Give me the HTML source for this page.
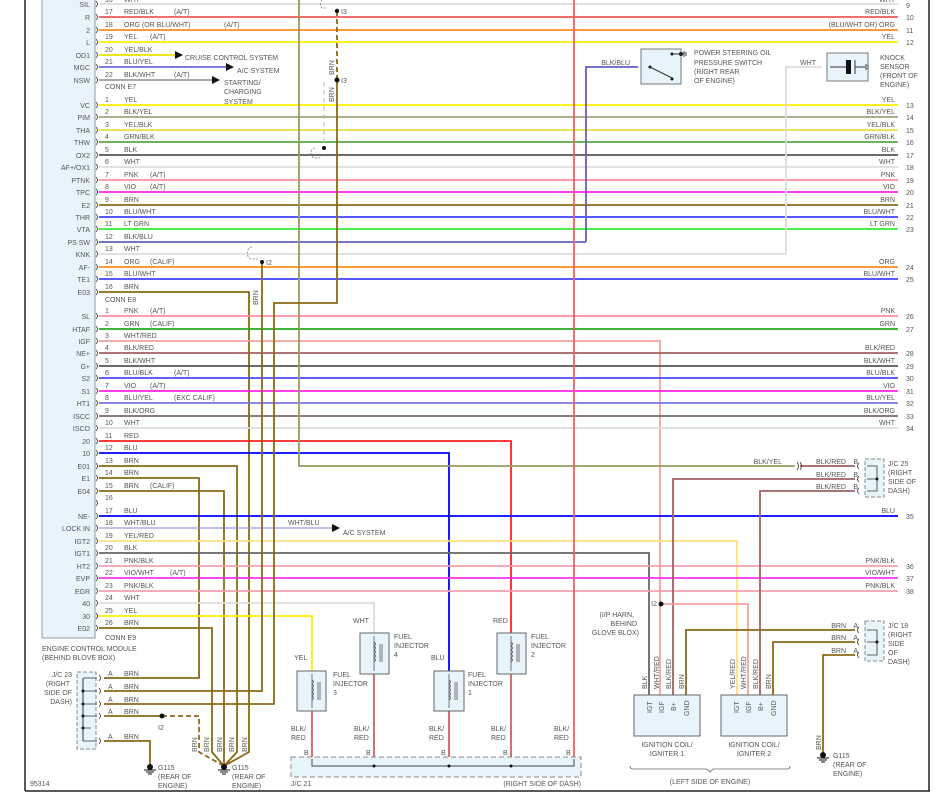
<!DOCTYPE html>
<html><head><meta charset="utf-8"><style>
html,body{margin:0;padding:0;background:#fff}
svg{display:block}
text{font-family:"Liberation Sans",sans-serif;font-size:7px;fill:#555}
</style></head><body>
<svg width="942" height="800" viewBox="0 0 942 800" xmlns="http://www.w3.org/2000/svg">
<!-- frame -->
<line x1="25" y1="0" x2="25" y2="791" stroke="#222" stroke-width="1.5"/>
<line x1="25" y1="791" x2="930" y2="791" stroke="#222" stroke-width="1.5"/>
<line x1="929" y1="0" x2="929" y2="791" stroke="#222" stroke-width="1.5"/>
<!-- ECM -->
<rect x="42" y="-2" width="53" height="640" fill="#e8f4fc" stroke="#999"/>
<g fill="none" stroke-width="1.8">
<!-- top rows -->
<line x1="99" y1="4" x2="898" y2="4" stroke="#ddd"/>
<line x1="99" y1="17" x2="898" y2="17" stroke="#f05858"/>
<line x1="99" y1="30" x2="898" y2="30" stroke="#ff8c1a"/>
<line x1="99" y1="42" x2="898" y2="42" stroke="#ffee00"/>
<line x1="99" y1="55" x2="175" y2="55" stroke="#e8e000"/>
<line x1="99" y1="67" x2="226" y2="67" stroke="#6a6ae0"/>
<line x1="99" y1="80" x2="212" y2="80" stroke="#555" stroke-width="1"/>
<!-- E7 -->
<line x1="99" y1="105" x2="898" y2="105" stroke="#ffee00"/>
<line x1="99" y1="117" x2="898" y2="117" stroke="#a0a080"/>
<line x1="99" y1="130" x2="898" y2="130" stroke="#e8e040"/>
<line x1="99" y1="142" x2="898" y2="142" stroke="#5aa845"/>
<line x1="99" y1="155" x2="898" y2="155" stroke="#555"/>
<line x1="99" y1="167" x2="898" y2="167" stroke="#ddd"/>
<line x1="99" y1="180" x2="898" y2="180" stroke="#ff8fa0"/>
<line x1="99" y1="192" x2="898" y2="192" stroke="#ff22ee"/>
<line x1="99" y1="205" x2="898" y2="205" stroke="#8b6914"/>
<line x1="99" y1="217" x2="898" y2="217" stroke="#4040ff"/>
<line x1="99" y1="229" x2="898" y2="229" stroke="#33ee33"/>
<line x1="99" y1="242" x2="586" y2="242" stroke="#6060c0"/>
<line x1="99" y1="254" x2="786" y2="254" stroke="#ddd"/>
<line x1="99" y1="267" x2="898" y2="267" stroke="#ff8c1a"/>
<line x1="99" y1="279" x2="898" y2="279" stroke="#4040ff"/>
<polyline points="99,292 249,292 249,752 224,766" stroke="#8b6914"/>
<!-- E8 -->
<line x1="99" y1="316" x2="898" y2="316" stroke="#ff8fa0"/>
<line x1="99" y1="329" x2="898" y2="329" stroke="#22aa22"/>
<polyline points="99,341 660,341 660,700" stroke="#f4a0a0"/>
<line x1="99" y1="353" x2="898" y2="353" stroke="#a06060"/>
<line x1="99" y1="366" x2="898" y2="366" stroke="#555"/>
<line x1="99" y1="378" x2="898" y2="378" stroke="#4a4aff"/>
<line x1="99" y1="391" x2="898" y2="391" stroke="#ff22ee"/>
<line x1="99" y1="403" x2="898" y2="403" stroke="#7777dd"/>
<line x1="99" y1="416" x2="898" y2="416" stroke="#7a6a60"/>
<line x1="99" y1="428" x2="898" y2="428" stroke="#ddd"/>
<polyline points="99,441 511,441 511,633" stroke="#ff2020"/>
<polyline points="99,453 449,453 449,671" stroke="#0000ff"/>
<polyline points="99,466 237,466 237,752 224,766" stroke="#8b6914"/>
<polyline points="99,478 199,478 199,678 104,678" stroke="#8b6914"/>
<polyline points="99,491 224,491 224,766" stroke="#8b6914"/>
<line x1="99" y1="516" x2="898" y2="516" stroke="#0000ff"/>
<line x1="99" y1="528" x2="332" y2="528" stroke="#8080e0" stroke-width="1"/>
<polyline points="99,541 737,541 737,700" stroke="#ffe080"/>
<polyline points="99,553 649,553 649,700" stroke="#666"/>
<line x1="99" y1="566" x2="898" y2="566" stroke="#f0a0b0"/>
<line x1="99" y1="578" x2="898" y2="578" stroke="#ff30f0"/>
<line x1="99" y1="591" x2="898" y2="591" stroke="#f0a0b0"/>
<polyline points="99,603 374,603 374,633" stroke="#ddd"/>
<polyline points="99,616 312,616 312,671" stroke="#ffee00"/>
<polyline points="99,628 212,628 212,752 224,766" stroke="#8b6914"/>
<!-- verticals -->
<polyline points="299,0 299,466 795,466" stroke="#9a9a60"/>
<polyline points="337,80 337,303 274,303 274,704 104,704" stroke="#8b6914"/>
<line x1="337" y1="11" x2="337" y2="80" stroke="#8b6914" stroke-dasharray="5,3"/>
<line x1="324" y1="82" x2="324" y2="148" stroke="#bbb" stroke-width="1" stroke-dasharray="5,3"/>
<polyline points="262,262 262,691 104,691" stroke="#8b6914"/>
<line x1="574" y1="0" x2="574" y2="757" stroke="#f06060"/>
<polyline points="586,242 586,67 638,67" stroke="#6060c0"/>
<polyline points="786,254 786,67 822,67" stroke="#ddd"/>
<!-- J/C23 other rows -->
<line x1="104" y1="716" x2="162" y2="716" stroke="#8b6914"/>
<polyline points="162,716 199,716 199,752 224,766" stroke="#8b6914" stroke-dasharray="5,3"/>
<polyline points="104,741 150,741 150,766" stroke="#8b6914"/>
<!-- J/C25 -->
<line x1="800" y1="466" x2="855" y2="466" stroke="#a06060"/>
<polyline points="855,479 673,479 673,700" stroke="#a06060"/>
<polyline points="855,491 760,491 760,700" stroke="#a06060"/>
<!-- I2 splice -->
<polyline points="661,604 748,604 748,700" stroke="#f4a0a0"/>
<!-- J/C19 -->
<polyline points="855,630 686,630 686,700" stroke="#8b6914"/>
<polyline points="855,642 773,642 773,700" stroke="#8b6914"/>
<polyline points="855,655 823,655 823,755" stroke="#8b6914"/>
<!-- injectors bottom -->
<line x1="312" y1="711" x2="312" y2="757" stroke="#d06060"/>
<line x1="374" y1="674" x2="374" y2="757" stroke="#d06060"/>
<line x1="449" y1="711" x2="449" y2="757" stroke="#d06060"/>
<line x1="511" y1="674" x2="511" y2="757" stroke="#d06060"/>
</g>
<!-- arrowheads -->
<polygon points="175,51 183,55 175,59" fill="#111"/>
<polygon points="226,63 234,67 226,71" fill="#111"/>
<polygon points="212,76 220,80 212,84" fill="#111"/>
<polygon points="332,524 340,528 332,532" fill="#111"/>
<!-- splices -->
<g fill="#111">
<circle cx="337" cy="11" r="2.2"/><circle cx="337" cy="80" r="2.5"/><circle cx="324" cy="148" r="2"/>
<circle cx="262" cy="262" r="2"/><circle cx="162" cy="716" r="2.5"/><circle cx="661" cy="604" r="2.5"/>
</g>
<g fill="none" stroke="#777" stroke-width="0.8" stroke-dasharray="2,1.5">
<path d="M322,0 a4,5 0 0 0 0,8 h5"/><path d="M315,148 a4,5 0 0 0 0,10 h6"/><path d="M252,247 a4,5 0 0 0 0,12 h6"/>
</g>
<!-- connector glyphs on ECM -->
<g fill="none" stroke="#333" stroke-width="0.8">
<path d="M96,1 q3,3 0,6 M96,14 q3,3 0,6 M96,27 q3,3 0,6 M96,39 q3,3 0,6 M96,52 q3,3 0,6 M96,64 q3,3 0,6 M96,77 q3,3 0,6
M96,102 q3,3 0,6 M96,114 q3,3 0,6 M96,127 q3,3 0,6 M96,139 q3,3 0,6 M96,152 q3,3 0,6 M96,164 q3,3 0,6 M96,177 q3,3 0,6 M96,189 q3,3 0,6 M96,202 q3,3 0,6 M96,214 q3,3 0,6 M96,226 q3,3 0,6 M96,239 q3,3 0,6 M96,251 q3,3 0,6 M96,264 q3,3 0,6 M96,276 q3,3 0,6 M96,289 q3,3 0,6
M96,313 q3,3 0,6 M96,326 q3,3 0,6 M96,338 q3,3 0,6 M96,350 q3,3 0,6 M96,363 q3,3 0,6 M96,375 q3,3 0,6 M96,388 q3,3 0,6 M96,400 q3,3 0,6 M96,413 q3,3 0,6 M96,425 q3,3 0,6 M96,438 q3,3 0,6 M96,450 q3,3 0,6 M96,463 q3,3 0,6 M96,475 q3,3 0,6 M96,488 q3,3 0,6 M96,500 q3,3 0,6 M96,513 q3,3 0,6 M96,525 q3,3 0,6 M96,538 q3,3 0,6 M96,550 q3,3 0,6 M96,563 q3,3 0,6 M96,575 q3,3 0,6 M96,588 q3,3 0,6 M96,600 q3,3 0,6 M96,613 q3,3 0,6 M96,625 q3,3 0,6"/>
<path d="M797,462 q3,4 0,8 M800,462 q3,4 0,8"/>
</g>
<!-- ECM pin labels -->
<g text-anchor="end">
<text x="90" y="7">SIL</text><text x="90" y="20">R</text><text x="90" y="33">2</text><text x="90" y="45">L</text><text x="90" y="58">OD1</text><text x="90" y="70">MGC</text><text x="90" y="83">NSW</text>
<text x="90" y="108">VC</text><text x="90" y="120">PIM</text><text x="90" y="133">THA</text><text x="90" y="145">THW</text><text x="90" y="158">OX2</text><text x="90" y="170">AF+/OX1</text><text x="90" y="183">PTNK</text><text x="90" y="195">TPC</text><text x="90" y="208">E2</text><text x="90" y="220">THR</text><text x="90" y="232">VTA</text><text x="90" y="245">PS SW</text><text x="90" y="257">KNK</text><text x="90" y="270">AF-</text><text x="90" y="282">TE1</text><text x="90" y="295">E03</text>
<text x="90" y="319">SL</text><text x="90" y="332">HTAF</text><text x="90" y="344">IGF</text><text x="90" y="356">NE+</text><text x="90" y="369">G+</text><text x="90" y="381">S2</text><text x="90" y="394">S1</text><text x="90" y="406">HT1</text><text x="90" y="419">ISCC</text><text x="90" y="431">ISCO</text><text x="90" y="444">20</text><text x="90" y="456">10</text><text x="90" y="469">E01</text><text x="90" y="481">E1</text><text x="90" y="494">E04</text><text x="90" y="519">NE-</text><text x="90" y="531">LOCK IN</text><text x="90" y="544">IGT2</text><text x="90" y="556">IGT1</text><text x="90" y="569">HT2</text><text x="90" y="581">EVP</text><text x="90" y="594">EGR</text><text x="90" y="606">40</text><text x="90" y="619">30</text><text x="90" y="631">E02</text>
</g>
<!-- wire numbers & names -->
<g>
<text x="105" y="2">16</text><text x="124" y="2">WHT</text>
<text x="105" y="14">17</text><text x="124" y="14">RED/BLK</text><text x="174" y="14">(A/T)</text>
<text x="105" y="27">18</text><text x="124" y="27">ORG (OR BLU/WHT)</text><text x="224" y="27">(A/T)</text>
<text x="105" y="39">19</text><text x="124" y="39">YEL</text><text x="150" y="39">(A/T)</text>
<text x="105" y="52">20</text><text x="124" y="52">YEL/BLK</text><text x="185" y="60">CRUISE CONTROL SYSTEM</text>
<text x="105" y="64">21</text><text x="124" y="64">BLU/YEL</text><text x="237" y="73">A/C SYSTEM</text>
<text x="105" y="77">22</text><text x="124" y="77">BLK/WHT</text><text x="174" y="77">(A/T)</text>
<text x="224" y="85">STARTING/</text><text x="224" y="94">CHARGING</text><text x="224" y="104">SYSTEM</text>
<text x="105" y="89">CONN E7</text>
<text x="105" y="102">1</text><text x="124" y="102">YEL</text>
<text x="105" y="114">2</text><text x="124" y="114">BLK/YEL</text>
<text x="105" y="127">3</text><text x="124" y="127">YEL/BLK</text>
<text x="105" y="139">4</text><text x="124" y="139">GRN/BLK</text>
<text x="105" y="152">5</text><text x="124" y="152">BLK</text>
<text x="105" y="164">6</text><text x="124" y="164">WHT</text>
<text x="105" y="177">7</text><text x="124" y="177">PNK</text><text x="150" y="177">(A/T)</text>
<text x="105" y="189">8</text><text x="124" y="189">VIO</text><text x="150" y="189">(A/T)</text>
<text x="105" y="202">9</text><text x="124" y="202">BRN</text>
<text x="105" y="214">10</text><text x="124" y="214">BLU/WHT</text>
<text x="105" y="226">11</text><text x="124" y="226">LT GRN</text>
<text x="105" y="239">12</text><text x="124" y="239">BLK/BLU</text>
<text x="105" y="251">13</text><text x="124" y="251">WHT</text>
<text x="105" y="264">14</text><text x="124" y="264">ORG</text><text x="150" y="264">(CALIF)</text>
<text x="105" y="276">15</text><text x="124" y="276">BLU/WHT</text>
<text x="105" y="289">16</text><text x="124" y="289">BRN</text>
<text x="105" y="302">CONN E8</text>
<text x="105" y="313">1</text><text x="124" y="313">PNK</text><text x="150" y="313">(A/T)</text>
<text x="105" y="326">2</text><text x="124" y="326">GRN</text><text x="150" y="326">(CALIF)</text>
<text x="105" y="338">3</text><text x="124" y="338">WHT/RED</text>
<text x="105" y="350">4</text><text x="124" y="350">BLK/RED</text>
<text x="105" y="363">5</text><text x="124" y="363">BLK/WHT</text>
<text x="105" y="375">6</text><text x="124" y="375">BLU/BLK</text><text x="174" y="375">(A/T)</text>
<text x="105" y="388">7</text><text x="124" y="388">VIO</text><text x="150" y="388">(A/T)</text>
<text x="105" y="400">8</text><text x="124" y="400">BLU/YEL</text><text x="174" y="400">(EXC CALIF)</text>
<text x="105" y="413">9</text><text x="124" y="413">BLK/ORG</text>
<text x="105" y="425">10</text><text x="124" y="425">WHT</text>
<text x="105" y="438">11</text><text x="124" y="438">RED</text>
<text x="105" y="450">12</text><text x="124" y="450">BLU</text>
<text x="105" y="463">13</text><text x="124" y="463">BRN</text>
<text x="105" y="475">14</text><text x="124" y="475">BRN</text>
<text x="105" y="488">15</text><text x="124" y="488">BRN</text><text x="150" y="488">(CALIF)</text>
<text x="105" y="500">16</text>
<text x="105" y="513">17</text><text x="124" y="513">BLU</text>
<text x="105" y="525">18</text><text x="124" y="525">WHT/BLU</text><text x="288" y="525">WHT/BLU</text><text x="343" y="535">A/C SYSTEM</text>
<text x="105" y="538">19</text><text x="124" y="538">YEL/RED</text>
<text x="105" y="550">20</text><text x="124" y="550">BLK</text>
<text x="105" y="563">21</text><text x="124" y="563">PNK/BLK</text>
<text x="105" y="575">22</text><text x="124" y="575">VIO/WHT</text><text x="170" y="575">(A/T)</text>
<text x="105" y="588">23</text><text x="124" y="588">PNK/BLK</text>
<text x="105" y="600">24</text><text x="124" y="600">WHT</text>
<text x="105" y="613">25</text><text x="124" y="613">YEL</text>
<text x="105" y="625">26</text><text x="124" y="625">BRN</text>
<text x="105" y="640">CONN E9</text>
<text x="42" y="651">ENGINE CONTROL MODULE</text><text x="42" y="660">(BEHIND BLOVE BOX)</text>
</g>
<!-- right labels -->
<g text-anchor="end">
<text x="895" y="2">WHT</text><text x="895" y="14">RED/BLK</text><text x="895" y="27">(BLU/WHT OR) ORG</text><text x="895" y="39">YEL</text>
<text x="895" y="102">YEL</text><text x="895" y="114">BLK/YEL</text><text x="895" y="127">YEL/BLK</text><text x="895" y="139">GRN/BLK</text><text x="895" y="152">BLK</text><text x="895" y="164">WHT</text><text x="895" y="177">PNK</text><text x="895" y="189">VIO</text><text x="895" y="202">BRN</text><text x="895" y="214">BLU/WHT</text><text x="895" y="226">LT GRN</text>
<text x="895" y="264">ORG</text><text x="895" y="276">BLU/WHT</text>
<text x="895" y="313">PNK</text><text x="895" y="326">GRN</text><text x="895" y="350">BLK/RED</text><text x="895" y="363">BLK/WHT</text><text x="895" y="375">BLU/BLK</text><text x="895" y="388">VIO</text><text x="895" y="400">BLU/YEL</text><text x="895" y="413">BLK/ORG</text><text x="895" y="425">WHT</text>
<text x="895" y="513">BLU</text><text x="895" y="563">PNK/BLK</text><text x="895" y="575">VIO/WHT</text><text x="895" y="588">PNK/BLK</text>
<text x="782" y="464">BLK/YEL</text>
<text x="846" y="464">BLK/RED</text><text x="858" y="464">B</text>
<text x="846" y="477">BLK/RED</text><text x="858" y="477">B</text>
<text x="846" y="489">BLK/RED</text><text x="858" y="489">B</text>
<text x="846" y="628">BRN</text><text x="858" y="628">A</text>
<text x="846" y="640">BRN</text><text x="858" y="640">A</text>
<text x="846" y="653">BRN</text><text x="858" y="653">A</text>
<text x="630" y="65">BLK/BLU</text><text x="816" y="65">WHT</text>
<text x="657" y="606">I2</text>
<text x="634" y="617">(I/P HARN,</text><text x="637" y="626">BEHIND</text><text x="639" y="635">GLOVE BLOX)</text>
</g>
<!-- right numbers -->
<g>
<text x="906" y="8">9</text><text x="906" y="20">10</text><text x="906" y="33">11</text><text x="906" y="45">12</text>
<text x="906" y="108">13</text><text x="906" y="120">14</text><text x="906" y="133">15</text><text x="906" y="145">16</text><text x="906" y="158">17</text><text x="906" y="170">18</text><text x="906" y="183">19</text><text x="906" y="195">20</text><text x="906" y="208">21</text><text x="906" y="220">22</text><text x="906" y="232">23</text>
<text x="906" y="270">24</text><text x="906" y="282">25</text>
<text x="906" y="319">26</text><text x="906" y="332">27</text><text x="906" y="356">28</text><text x="906" y="369">29</text><text x="906" y="381">30</text><text x="906" y="394">31</text><text x="906" y="406">32</text><text x="906" y="419">33</text><text x="906" y="431">34</text>
<text x="906" y="519">35</text><text x="906" y="569">36</text><text x="906" y="581">37</text><text x="906" y="594">38</text>
<text x="341" y="14">I3</text><text x="341" y="83">I3</text><text x="266" y="265">I2</text><text x="158" y="730">I2</text>
</g>
<!-- vertical BRN labels -->
<g>
<text transform="translate(334,75) rotate(-90)">BRN</text>
<text transform="translate(334,102) rotate(-90)">BRN</text>
<text transform="translate(258,305) rotate(-90)">BRN</text>
<text transform="translate(197,752) rotate(-90)">BRN</text>
<text transform="translate(209,752) rotate(-90)">BRN</text>
<text transform="translate(222,752) rotate(-90)">BRN</text>
<text transform="translate(234,752) rotate(-90)">BRN</text>
<text transform="translate(247,752) rotate(-90)">BRN</text>
<text transform="translate(821,750) rotate(-90)">BRN</text>
<text transform="translate(647,689) rotate(-90)">BLK</text>
<text transform="translate(659,689) rotate(-90)">WHT/RED</text>
<text transform="translate(671,689) rotate(-90)">BLK/RED</text>
<text transform="translate(684,689) rotate(-90)">BRN</text>
<text transform="translate(735,689) rotate(-90)">YEL/RED</text>
<text transform="translate(746,689) rotate(-90)">WHT/RED</text>
<text transform="translate(758,689) rotate(-90)">BLK/RED</text>
<text transform="translate(771,689) rotate(-90)">BRN</text>
</g>
<!-- J/C 23 -->
<rect x="77" y="672" width="19" height="77" fill="#e8f4fc" stroke="#888" stroke-dasharray="4,2"/>
<line x1="83" y1="678" x2="83" y2="741" stroke="#333"/>
<g fill="#111"><circle cx="83" cy="691" r="1.5"/><circle cx="83" cy="704" r="1.5"/><circle cx="83" cy="716" r="1.5"/><circle cx="83" cy="728" r="1.5"/></g>
<g fill="none" stroke="#333" stroke-width="0.8"><path d="M83,678 h14 M83,691 h14 M83,704 h14 M83,716 h14 M83,741 h14 M83,728 h8 M99,675 q3,3 0,6 M99,688 q3,3 0,6 M99,701 q3,3 0,6 M99,713 q3,3 0,6 M99,738 q3,3 0,6"/></g>
<text x="108" y="676">A</text><text x="124" y="676">BRN</text><text x="108" y="689">A</text><text x="124" y="689">BRN</text><text x="108" y="702">A</text><text x="124" y="702">BRN</text><text x="108" y="714">A</text><text x="124" y="714">BRN</text><text x="108" y="739">A</text><text x="124" y="739">BRN</text>
<g text-anchor="end"><text x="72" y="677">J/C 23</text><text x="70" y="686">(RIGHT</text><text x="72" y="695">SIDE OF</text><text x="72" y="704">DASH)</text></g>
<!-- grounds -->
<g fill="#111" stroke="#111"><circle cx="150" cy="767" r="2.5"/><line x1="144" y1="770" x2="156" y2="770"/><line x1="146" y1="772" x2="154" y2="772"/><line x1="148" y1="774" x2="152" y2="774"/>
<circle cx="224" cy="767" r="2.5"/><line x1="218" y1="770" x2="230" y2="770"/><line x1="220" y1="772" x2="228" y2="772"/><line x1="222" y1="774" x2="226" y2="774"/>
<circle cx="823" cy="755" r="2.5"/><line x1="817" y1="758" x2="829" y2="758"/><line x1="819" y1="760" x2="827" y2="760"/><line x1="821" y1="762" x2="825" y2="762"/></g>
<text x="158" y="770">G115</text><text x="158" y="779">(REAR OF</text><text x="158" y="788">ENGINE)</text>
<text x="232" y="770">G115</text><text x="232" y="779">(REAR OF</text><text x="232" y="788">ENGINE)</text>
<text x="833" y="758">G115</text><text x="833" y="767">(REAR OF</text><text x="833" y="776">ENGINE)</text>
<text x="30" y="786">95314</text>
<!-- injectors -->
<g fill="#e8f4fc" stroke="#666"><rect x="297" y="671" width="29" height="40"/><rect x="360" y="633" width="29" height="41"/><rect x="434" y="671" width="30" height="40"/><rect x="497" y="633" width="29" height="41"/></g>
<g fill="none" stroke="#555" stroke-width="0.8">
<path d="M312,674 v34 M312,680 q3,2 0,4 q3,2 0,4 q3,2 0,4 q3,2 0,4 q3,2 0,4 M318,682 v18 M320,682 v18"/>
<path d="M374,636 v35 M374,642 q3,2 0,4 q3,2 0,4 q3,2 0,4 q3,2 0,4 q3,2 0,4 M380,644 v18 M382,644 v18"/>
<path d="M449,674 v34 M449,680 q3,2 0,4 q3,2 0,4 q3,2 0,4 q3,2 0,4 q3,2 0,4 M455,682 v18 M457,682 v18"/>
<path d="M511,636 v35 M511,642 q3,2 0,4 q3,2 0,4 q3,2 0,4 q3,2 0,4 q3,2 0,4 M517,644 v18 M519,644 v18"/>
</g>
<text x="333" y="677">FUEL</text><text x="333" y="686">INJECTOR</text><text x="333" y="695">3</text>
<text x="394" y="639">FUEL</text><text x="394" y="648">INJECTOR</text><text x="394" y="657">4</text>
<text x="468" y="677">FUEL</text><text x="468" y="686">INJECTOR</text><text x="468" y="695">1</text>
<text x="531" y="639">FUEL</text><text x="531" y="648">INJECTOR</text><text x="531" y="657">2</text>
<text x="294" y="660">YEL</text><text x="353" y="623">WHT</text><text x="431" y="660">BLU</text><text x="493" y="623">RED</text>
<text x="291" y="731">BLK/</text><text x="291" y="740">RED</text><text x="354" y="731">BLK/</text><text x="354" y="740">RED</text>
<text x="429" y="731">BLK/</text><text x="429" y="740">RED</text><text x="491" y="731">BLK/</text><text x="491" y="740">RED</text>
<text x="554" y="731">BLK/</text><text x="554" y="740">RED</text>
<text x="304" y="755">B</text><text x="366" y="755">B</text><text x="441" y="755">B</text><text x="503" y="755">B</text><text x="566" y="755">B</text>
<!-- J/C21 -->
<rect x="291" y="757" width="290" height="20" fill="#e8f4fc" stroke="#888" stroke-dasharray="5,3"/>
<polyline points="312,759 312,766 574,766 574,759" fill="none" stroke="#444"/>
<g fill="#111"><circle cx="374" cy="766" r="1.5"/><circle cx="449" cy="766" r="1.5"/><circle cx="511" cy="766" r="1.5"/></g>
<text x="291" y="786">J/C 21</text><text x="581" y="786" text-anchor="end">(RIGHT SIDE OF DASH)</text>
<!-- coils -->
<rect x="634" y="695" width="66" height="41" fill="#e8f4fc" stroke="#666"/>
<rect x="721" y="695" width="66" height="41" fill="#e8f4fc" stroke="#666"/>
<g>
<text transform="translate(652,713) rotate(-90)">IGT</text><text transform="translate(664,713) rotate(-90)">IGF</text><text transform="translate(676,711) rotate(-90)">B+</text><text transform="translate(689,716) rotate(-90)">GND</text>
<text transform="translate(739,713) rotate(-90)">IGT</text><text transform="translate(751,713) rotate(-90)">IGF</text><text transform="translate(763,711) rotate(-90)">B+</text><text transform="translate(776,716) rotate(-90)">GND</text>
</g>
<text x="667" y="747" text-anchor="middle">IGNITION COIL/</text><text x="667" y="756" text-anchor="middle">IGNITER 1</text>
<text x="754" y="747" text-anchor="middle">IGNITION COIL/</text><text x="754" y="756" text-anchor="middle">IGNITER 2</text>
<path d="M630,766 q0,3 3,3 h74 l3,3 l3,-3 h74 q3,0 3,-3" fill="none" stroke="#666" stroke-width="0.8"/>
<text x="710" y="784" text-anchor="middle">(LEFT SIDE OF ENGINE)</text>
<!-- J/C25 / J/C19 -->
<rect x="865" y="459" width="19" height="38" fill="#e8f4fc" stroke="#888" stroke-dasharray="4,2"/>
<rect x="865" y="621" width="19" height="40" fill="#e8f4fc" stroke="#888" stroke-dasharray="4,2"/>
<g fill="none" stroke="#333" stroke-width="0.8"><path d="M867,466 h10 v25 h-10 M867,479 h10 M867,630 h10 v25 h-10 M867,642 h10 M859,463 q-3,3 0,6 M859,476 q-3,3 0,6 M859,488 q-3,3 0,6 M859,627 q-3,3 0,6 M859,639 q-3,3 0,6 M859,652 q-3,3 0,6"/></g>
<circle cx="877" cy="479" r="1.5" fill="#111"/><circle cx="877" cy="642" r="1.5" fill="#111"/>
<text x="888" y="466">J/C 25</text><text x="888" y="475">(RIGHT</text><text x="888" y="484">SIDE OF</text><text x="888" y="493">DASH)</text>
<text x="888" y="628">J/C 19</text><text x="888" y="637">(RIGHT</text><text x="888" y="646">SIDE</text><text x="888" y="655">OF</text><text x="888" y="664">DASH)</text>
<!-- PS switch -->
<rect x="641" y="49" width="40" height="35" fill="#e8f4fc" stroke="#777"/>
<g fill="#111"><circle cx="650" cy="67" r="1.5"/><circle cx="672" cy="79" r="1.5"/><circle cx="672" cy="54" r="1.5"/><circle cx="681" cy="54" r="2"/></g>
<path d="M650,67 L672,78 M672,54 h12 M684,51 v6 M686,52 v4" stroke="#333" fill="none"/>
<text x="694" y="55">POWER STEERING OIL</text><text x="694" y="65">PRESSURE SWITCH</text><text x="694" y="74">(RIGHT REAR</text><text x="694" y="83">OF ENGINE)</text>
<!-- knock sensor -->
<rect x="827" y="53" width="41" height="28" fill="#e8f4fc" stroke="#777"/>
<rect x="846" y="60" width="5" height="14" fill="#111"/>
<path d="M830,67 h16 M855,60 v14 M855,67 h10 M866,64 v6 M868,65 v4" stroke="#333" fill="none"/>
<text x="880" y="60">KNOCK</text><text x="880" y="69">SENSOR</text><text x="880" y="78">(FRONT OF</text><text x="880" y="87">ENGINE)</text>
</svg>
</body></html>
